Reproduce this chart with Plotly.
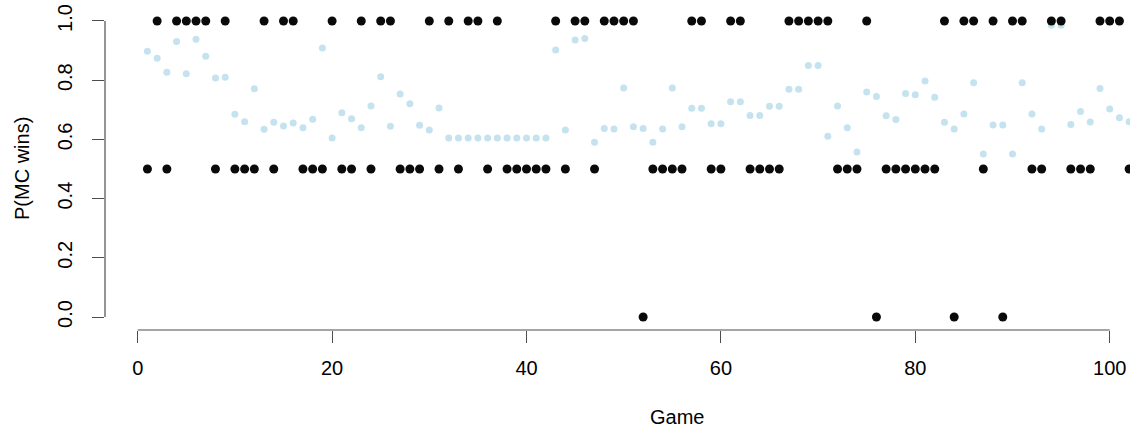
import plotly.graph_objects as go

games = list(range(1, 103))

outcome = [
    0.5, 1, 0.5, 1, 1, 1, 1, 0.5, 1, 0.5,
    0.5, 0.5, 1, 0.5, 1, 1, 0.5, 0.5, 0.5, 1,
    0.5, 0.5, 1, 0.5, 1, 1, 0.5, 0.5, 0.5, 1,
    0.5, 1, 0.5, 1, 1, 0.5, 1, 0.5, 0.5, 0.5,
    0.5, 0.5, 1, 0.5, 1, 1, 0.5, 1, 1, 1,
    1, 0, 0.5, 0.5, 0.5, 0.5, 1, 1, 0.5, 0.5,
    1, 1, 0.5, 0.5, 0.5, 0.5, 1, 1, 1, 1,
    1, 0.5, 0.5, 0.5, 1, 0, 0.5, 0.5, 0.5, 0.5,
    0.5, 0.5, 1, 0, 1, 1, 0.5, 1, 0, 1,
    1, 0.5, 0.5, 1, 1, 0.5, 0.5, 0.5, 1, 1,
    1, 0.5,
]

p_mc_wins = [
    0.898, 0.874, 0.827, 0.931, 0.822, 0.938, 0.881, 0.807, 0.810, 0.685,
    0.660, 0.771, 0.634, 0.658, 0.645, 0.655, 0.639, 0.668, 0.909, 0.605,
    0.690, 0.670, 0.639, 0.713, 0.812, 0.644, 0.753, 0.720, 0.648, 0.632,
    0.706, 0.605, 0.605, 0.605, 0.605, 0.605, 0.605, 0.605, 0.605, 0.605,
    0.605, 0.605, 0.902, 0.632, 0.936, 0.941, 0.590, 0.637, 0.635, 0.774,
    0.643, 0.637, 0.590, 0.635, 0.774, 0.643, 0.705, 0.705, 0.653, 0.653,
    0.727, 0.727, 0.681, 0.681, 0.712, 0.712, 0.769, 0.769, 0.850, 0.850,
    0.611, 0.713, 0.639, 0.557, 0.760, 0.745, 0.680, 0.667, 0.755, 0.751,
    0.797, 0.742, 0.658, 0.635, 0.686, 0.791, 0.551, 0.649, 0.649, 0.551,
    0.791, 0.686, 0.635, 0.986, 0.986, 0.650, 0.694, 0.659, 0.772, 0.703,
    0.673, 0.660,
]

x_ticks = [0, 20, 40, 60, 80, 100]
y_ticks = [0.0, 0.2, 0.4, 0.6, 0.8, 1.0]
y_tick_labels = ["0.0", "0.2", "0.4", "0.6", "0.8", "1.0"]

FONT = "Liberation Sans, Arial, Helvetica, sans-serif"
AXIS_COL = "#4d4d4d"

fig = go.Figure()
fig.add_trace(go.Scatter(
    x=games, y=p_mc_wins, mode="markers",
    marker=dict(size=7, color="#c4e3ef", line=dict(width=0)),
    showlegend=False, hoverinfo="x+y",
))
fig.add_trace(go.Scatter(
    x=games, y=outcome, mode="markers",
    marker=dict(size=9, color="#0a0a0a", line=dict(width=0)),
    showlegend=False, hoverinfo="x+y",
))

# R-style axis lines spanning only the tick range
fig.add_shape(type="line", xref="x", yref="paper", x0=x_ticks[0], x1=x_ticks[-1], y0=0, y1=0,
              line=dict(color=AXIS_COL, width=1.2))
fig.add_shape(type="line", xref="paper", yref="y", x0=0, x1=0, y0=y_ticks[0], y1=y_ticks[-1],
              line=dict(color=AXIS_COL, width=1.2))

fig.add_annotation(text="Game", xref="x", yref="paper", x=55.5, y=0, yanchor="middle",
                   yshift=-87, showarrow=False, font=dict(family=FONT, size=20, color="#000"))
fig.add_annotation(text="P(MC wins)", xref="paper", yref="y", x=0, y=0.5, xanchor="center",
                   xshift=-83, textangle=-90, showarrow=False,
                   font=dict(family=FONT, size=20, color="#000"))

fig.update_layout(
    width=1130, height=433,
    margin=dict(l=105, r=0, t=9, b=103, pad=0),
    paper_bgcolor="white", plot_bgcolor="white",
    font=dict(family=FONT, size=20, color="#000"),
    xaxis=dict(range=[-3.364, 102.088], tickvals=x_ticks, ticks="outside", ticklen=12,
               tickwidth=1.2, tickcolor=AXIS_COL, showline=False, zeroline=False, showgrid=False,
               ticklabelstandoff=8, tickfont=dict(family=FONT, size=20, color="#000")),
    yaxis=dict(range=[-0.0439, 1.0405], tickvals=y_ticks, ticktext=y_tick_labels, ticks="outside",
               ticklen=12, tickwidth=1.2, tickcolor=AXIS_COL, showline=False, zeroline=False,
               showgrid=False, tickangle=-90, ticklabelstandoff=12,
               tickfont=dict(family=FONT, size=20, color="#000")),
)

fig.write_html("out.html")
